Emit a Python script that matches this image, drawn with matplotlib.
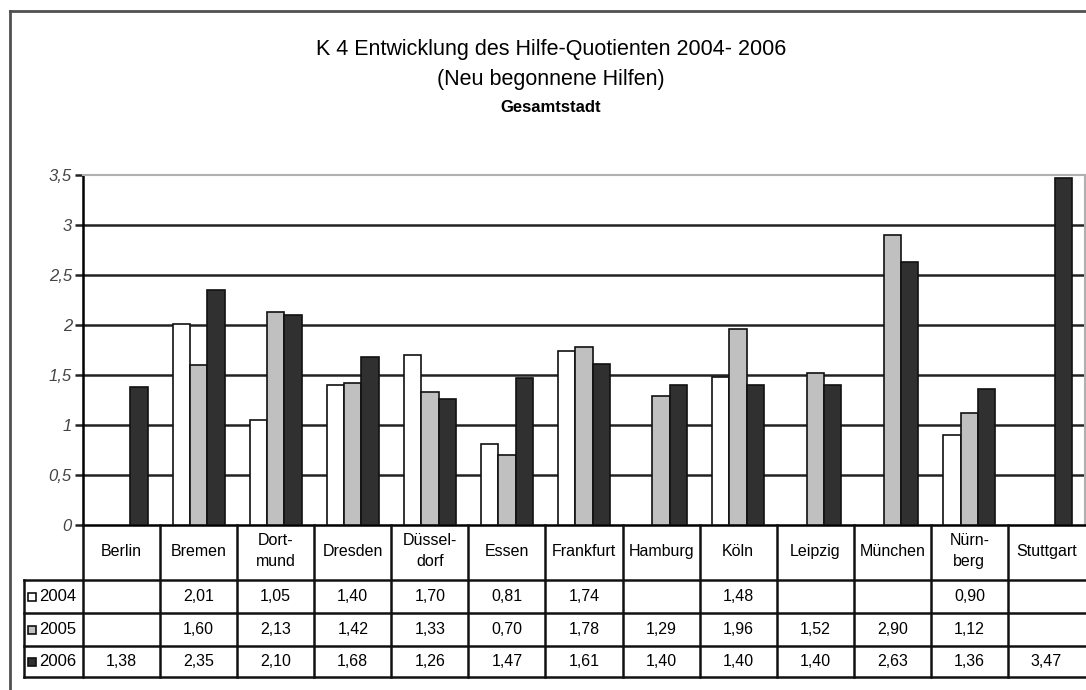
import matplotlib.pyplot as plt
from matplotlib.patches import Rectangle
import numpy as np

plt.rcParams['font.family'] = ['Liberation Sans', 'DejaVu Sans']

staedte = ['Berlin', 'Bremen', 'Dort-\nmund', 'Dresden', 'Düssel-\ndorf', 'Essen',
           'Frankfurt', 'Hamburg', 'Köln', 'Leipzig', 'München', 'Nürn-\nberg', 'Stuttgart']
jahre = ['2004', '2005', '2006']
werte_2004 = [None, 2.01, 1.05, 1.40, 1.70, 0.81, 1.74, None, 1.48, None, None, 0.90, None]
werte_2005 = [None, 1.60, 2.13, 1.42, 1.33, 0.70, 1.78, 1.29, 1.96, 1.52, 2.90, 1.12, None]
werte_2006 = [1.38, 2.35, 2.10, 1.68, 1.26, 1.47, 1.61, 1.40, 1.40, 1.40, 2.63, 1.36, 3.47]
farben = ['#ffffff', '#c0c0c0', '#303030']

W, H = 1086, 690
fig = plt.figure(figsize=(W / 100, H / 100), dpi=100)

def px_box(x0, y0, x1, y1):
    # pixel box (top-left origin) -> figure fraction
    return [x0 / W, 1 - y1 / H, (x1 - x0) / W, (y1 - y0) / H]

# outer frame
fig.add_artist(plt.Line2D([10 / W, 1], [1 - 11 / H] * 2, color='#505050', lw=2))
fig.add_artist(plt.Line2D([10 / W] * 2, [0, 1 - 11 / H], color='#505050', lw=2))

xm = 0.5 * (312 + 790) / W
fig.text(xm, 1 - 50 / H, 'K 4 Entwicklung des Hilfe-Quotienten 2004- 2006',
         ha='center', va='center', fontsize=15.5)
fig.text(xm, 1 - 80 / H, '(Neu begonnene Hilfen)',
         ha='center', va='center', fontsize=15.5)
fig.text(xm, 1 - 108 / H, 'Gesamtstadt',
         ha='center', va='center', fontsize=12, fontweight='bold')

x0, x1 = 83, 1085
ax = fig.add_axes(px_box(x0, 175, x1, 525))
n = len(staedte)
x = np.arange(n)
bw = 0.225
for j, (serie, farbe) in enumerate(zip([werte_2004, werte_2005, werte_2006], farben)):
    vals = [np.nan if v is None else v for v in serie]
    ax.bar(x + (j - 1) * bw, vals, width=bw, color=farbe, edgecolor='#111111',
           linewidth=1.2, zorder=3)

ax.set_xlim(-0.5, n - 0.5)
ax.set_ylim(0, 3.5)
yt = np.arange(0, 3.51, 0.5)
ax.set_yticks(yt)
ax.set_yticklabels([f'{v:g}'.replace('.', ',') for v in yt], fontsize=12,
                   style='italic', color='#444444')
ax.tick_params(axis='y', length=6, width=1.8, color='#222222', pad=2)
ax.set_xticks([])
for v in yt[1:-1]:
    ax.axhline(v, color='#222222', lw=1.8, zorder=1)
for s in ['right', 'top']:
    ax.spines[s].set_color('#b0b0b0')
    ax.spines[s].set_linewidth(1.5)
ax.spines['left'].set_linewidth(1.8)
ax.spines['bottom'].set_linewidth(1.8)

# data table below the axis
tax = fig.add_axes(px_box(x0, 525, x1, 677))
tax.set_xlim(-0.5, n - 0.5)
tax.set_ylim(677, 525)
tax.axis('off')
cell_w = (x1 - x0) / n
lab_left = -0.5 - (x0 - 24) / cell_w
rows = [580, 613, 646, 677]
lk = dict(color='#111111', lw=1.8, clip_on=False)
for y in rows:
    tax.plot([lab_left, n - 0.5], [y, y], **lk)
tax.plot([lab_left, lab_left], [580, 677], **lk)
for k in range(n):
    tax.plot([k - 0.5, k - 0.5], [525, 677], **lk)
for k, name in enumerate(staedte):
    tax.text(k, 551, name, ha='center', va='center', fontsize=11.5, linespacing=1.45)

for r, (jahr, serie, farbe) in enumerate(zip(jahre, [werte_2004, werte_2005, werte_2006], farben)):
    yc = 0.5 * (rows[r] + rows[r + 1])
    sq = 8 / cell_w
    tax.add_patch(Rectangle((lab_left + 4 / cell_w, yc + 4), sq, -8, facecolor=farbe,
                            edgecolor='#111111', lw=1.2, clip_on=False))
    tax.text(lab_left + 15 / cell_w, yc, jahr, ha='left', va='center', fontsize=12,
             clip_on=False)
    for k, v in enumerate(serie):
        if v is not None:
            tax.text(k, yc, f'{v:.2f}'.replace('.', ','), ha='center', va='center',
                     fontsize=11.5)

fig.savefig('out.png', dpi=100)
